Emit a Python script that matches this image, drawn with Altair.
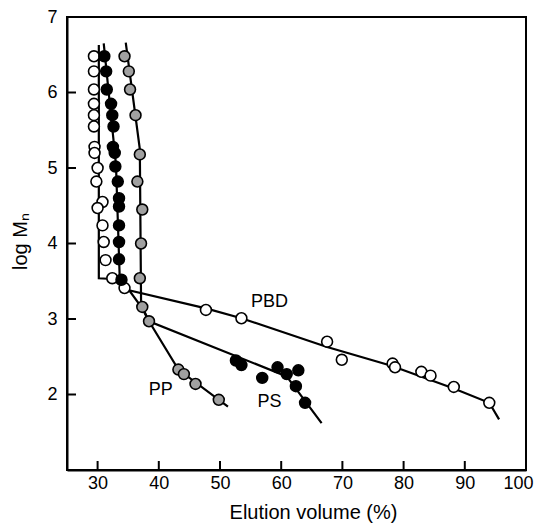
import altair as alt
import pandas as pd

# ---- data ----
pbd_x = [29.4, 29.4, 29.4, 29.4, 29.4, 29.4, 29.5, 29.5, 30.0, 29.8, 30.8, 30.0, 30.8, 31.0, 31.3, 32.4, 34.4,
         47.7, 53.5, 67.5, 69.9, 78.2, 78.6, 82.9, 84.4, 88.2, 94.0]
pbd_y = [6.48, 6.28, 6.04, 5.85, 5.70, 5.55, 5.28, 5.20, 5.00, 4.82, 4.55, 4.47, 4.24, 4.02, 3.78, 3.54, 3.41,
         3.12, 3.01, 2.70, 2.46, 2.41, 2.36, 2.30, 2.25, 2.10, 1.89]

ps_x = [31.1, 31.4, 31.5, 32.2, 32.4, 32.6, 32.5, 32.8, 32.9, 33.3, 33.5, 33.5, 33.5, 33.5, 33.5, 33.9,
        52.6, 53.5, 56.9, 59.4, 60.9, 62.8, 62.4, 63.9]
ps_y = [6.48, 6.28, 6.04, 5.85, 5.70, 5.55, 5.28, 5.20, 5.02, 4.82, 4.60, 4.49, 4.24, 4.02, 3.79, 3.52,
        2.45, 2.39, 2.22, 2.36, 2.27, 2.32, 2.11, 1.89]

pp_x = [34.4, 35.1, 35.3, 36.2, 36.9, 36.5, 37.3, 37.1, 36.9, 37.3, 38.4, 43.2, 44.1, 46.0, 49.8]
pp_y = [6.48, 6.28, 6.04, 5.70, 5.18, 4.82, 4.45, 4.00, 3.54, 3.16, 2.97, 2.33, 2.27, 2.14, 1.93]

pbd_line_x = [30.2, 30.2, 32.4, 34.6, 47.7, 53.5, 67.5, 78.0, 88.2, 94.0, 95.6]
pbd_line_y = [6.63, 3.54, 3.53, 3.39, 3.14, 3.01, 2.63, 2.38, 2.08, 1.89, 1.67]

ps_line_x = [31.0, 33.0, 33.6, 33.9, 37.3, 38.4, 60.9, 66.6]
ps_line_y = [6.65, 5.05, 3.58, 3.52, 3.14, 2.97, 2.24, 1.62]

pp_line_x = [34.6, 36.9, 37.1, 37.3, 38.4, 43.2, 51.3]
pp_line_y = [6.66, 5.25, 3.25, 3.16, 2.97, 2.33, 1.84]

label_text = ["PBD", "PS", "PP"]
label_x = [58.1, 58.1, 40.3]
label_y = [3.22, 1.90, 2.06]

x_ticks = [30, 40, 50, 60, 70, 80, 90, 100]
y_ticks = [2, 3, 4, 5, 6, 7]

# ---- tables ----
pts = pd.concat([
    pd.DataFrame({"x": pbd_x, "y": pbd_y, "s": "PBD"}),
    pd.DataFrame({"x": ps_x, "y": ps_y, "s": "PS"}),
    pd.DataFrame({"x": pp_x, "y": pp_y, "s": "PP"}),
], ignore_index=True)

lines = pd.concat([
    pd.DataFrame({"x": pbd_line_x, "y": pbd_line_y, "s": "PBD", "i": range(len(pbd_line_x))}),
    pd.DataFrame({"x": ps_line_x, "y": ps_line_y, "s": "PS", "i": range(len(ps_line_x))}),
    pd.DataFrame({"x": pp_line_x, "y": pp_line_y, "s": "PP", "i": range(len(pp_line_x))}),
], ignore_index=True)

labels = pd.DataFrame({"t": label_text, "x": label_x, "y": label_y})
xt = pd.DataFrame({"v": x_ticks[:-1]})
yt = pd.DataFrame({"v": y_ticks[:-1]})

W, H = 459, 453
FONT = "Liberation Sans"

xs = alt.Scale(domain=[25, 100], nice=False, zero=False)
ys = alt.Scale(domain=[1, 7], nice=False, zero=False)

x_axis = alt.Axis(values=x_ticks, title="Elution volume (%)", grid=False, ticks=False,
                  labelFlush=True, labelFlushOffset=7, labelPadding=4, labelFontSize=18,
                  titleFontSize=20, titleFontWeight="normal", titleX=246, titleY=48,
                  titleBaseline="alphabetic", format="d")
y_axis = alt.Axis(values=y_ticks, title="log Mₙ", grid=False, ticks=False,
                  labelFlush=False, labelPadding=10, labelFontSize=18, titleFontSize=20,
                  titleFontWeight="normal", titleX=-41, titleY=224, titleBaseline="alphabetic",
                  format="d")

line_layer = alt.Chart(lines).mark_line(color="black", strokeWidth=2.2).encode(
    x=alt.X("x:Q", scale=xs, axis=x_axis),
    y=alt.Y("y:Q", scale=ys, axis=y_axis),
    detail="s:N",
    order="i:Q",
)

pt_layer = alt.Chart(pts).mark_point(shape="circle", filled=True, size=118, stroke="black",
                                     strokeWidth=1.6, opacity=1).encode(
    x="x:Q",
    y="y:Q",
    fill=alt.Fill("s:N", scale=alt.Scale(domain=["PBD", "PS", "PP"],
                                         range=["white", "black", "#a0a0a0"]), legend=None),
)

text_layer = alt.Chart(labels).mark_text(fontSize=18, font=FONT, color="black",
                                         align="center", baseline="middle").encode(
    x="x:Q", y="y:Q", text="t:N"
)

xtick_layer = alt.Chart(xt).mark_rule(color="black", strokeWidth=2).encode(
    x="v:Q", y=alt.value(H), y2=alt.value(H - 9)
)
ytick_layer = alt.Chart(yt).mark_rule(color="black", strokeWidth=2).encode(
    y="v:Q", x=alt.value(0), x2=alt.value(9)
)

chart = alt.layer(line_layer, xtick_layer, ytick_layer, pt_layer, text_layer).properties(
    width=W, height=H,
    autosize=alt.AutoSizeParams(type="none"),
    padding={"left": 67, "top": 17, "right": 540 - 67 - W, "bottom": 527 - 17 - H},
    background="white",
).configure_view(
    stroke="black", strokeWidth=2
).configure_axis(
    domainColor="black", domainWidth=2, labelColor="black", titleColor="black",
    labelFont=FONT, titleFont=FONT
)

chart.save("out.html", embed_options={"renderer": "svg", "actions": False})
